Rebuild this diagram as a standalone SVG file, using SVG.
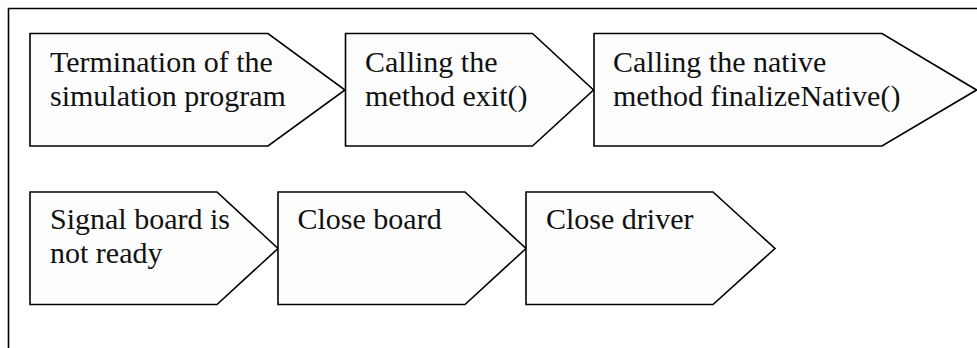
<svg xmlns="http://www.w3.org/2000/svg" width="977" height="348" viewBox="0 0 977 348">
  <style>
    .frame { fill: none; stroke: #000; stroke-width: 1.6; }
    .step { fill: #fdfdfd; stroke: #000; stroke-width: 1.6; stroke-linejoin: miter; }
    .label { font-family: "Liberation Serif", "Times New Roman", serif; font-size: 30px; fill: #111; }
  </style>
  <rect width="977" height="348" fill="#ffffff"/>
  <!-- outer frame: only the top and left edges fall inside the canvas -->
  <path class="frame" d="M8.5,348 V8.5 H977"/>

  <g id="step-termination">
    <polygon class="step" points="30,33.5 268,33.5 345,90 268,146 30,146"/>
    <text class="label" x="50" y="72">Termination of the</text>
    <text class="label" x="50" y="106">simulation program</text>
  </g>
  <g id="step-exit">
    <polygon class="step" points="345.5,33.5 532.5,33.5 593.5,90 532.5,146 345.5,146"/>
    <text class="label" x="365" y="72">Calling the</text>
    <text class="label" x="365" y="106">method exit()</text>
  </g>
  <g id="step-finalize-native">
    <polygon class="step" points="594,33.5 882,33.5 976.5,90 882,146 594,146"/>
    <text class="label" x="613" y="72">Calling the native</text>
    <text class="label" x="613" y="106">method finalizeNative()</text>
  </g>
  <g id="step-board-not-ready">
    <polygon class="step" points="30,192 217,192 278,248.5 217,304.5 30,304.5"/>
    <text class="label" x="50" y="229">Signal board is</text>
    <text class="label" x="50" y="263">not ready</text>
  </g>
  <g id="step-close-board">
    <polygon class="step" points="278,192 465,192 526,248.5 465,304.5 278,304.5"/>
    <text class="label" x="297.5" y="229">Close board</text>
  </g>
  <g id="step-close-driver">
    <polygon class="step" points="526,192 713,192 775,248.5 713,304.5 526,304.5"/>
    <text class="label" x="546" y="229">Close driver</text>
  </g>
  <g id="connectors"/>
</svg>
